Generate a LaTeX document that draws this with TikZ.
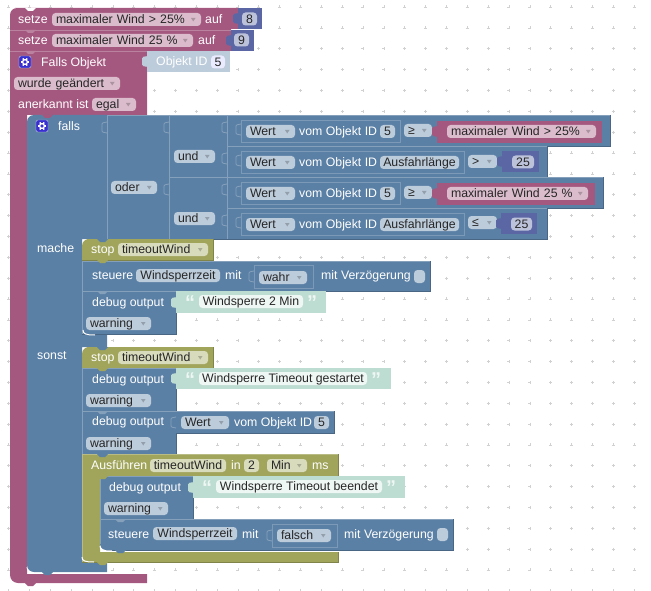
\documentclass[tikz,border=0pt]{standalone}
\usepackage{fontspec}
\setmainfont{Liberation Sans}
\usepackage{tikz}
\usetikzlibrary{calc}
\definecolor{blockmag}{HTML}{A5587F}
\definecolor{blockblue}{HTML}{5B80A5}
\definecolor{blockolive}{HTML}{A0A55B}
\definecolor{blocknum}{HTML}{5B67A5}
\definecolor{shadowblue}{HTML}{BDCCDB}
\definecolor{shadowgreen}{HTML}{BDDCD2}
\definecolor{pillmag}{HTML}{DBBCCC}
\definecolor{pillblue}{HTML}{BDCCDB}
\definecolor{pillolive}{HTML}{D9DBBD}
\definecolor{pillnum}{HTML}{BDC2DB}
\definecolor{pillgreen}{HTML}{EFF7F4}
\definecolor{gearblue}{HTML}{3A2FD0}
\tikzstyle{griddot} = [draw,black!18,line width=.5pt]
\tikzstyle{blocklabel} = [anchor=west,inner xsep=0pt,inner ysep=.75pt,text height=10pt,text depth=1.5pt,text=white,font=\fontsize{12.3}{14}\selectfont]
\tikzstyle{pill} = [rounded corners=3.5pt,inner ysep=.75pt,text height=10pt,text depth=1.5pt,text=black!85,font=\fontsize{12.3}{14}\selectfont]
\tikzstyle{tabline} = [draw,blockblue!75!white,line width=.8pt,rounded corners=1pt]
\tikzstyle{holder} = [draw,blockblue!80!white,line width=.8pt]
\tikzstyle{quotemark} = [anchor=center,inner sep=0pt,text=pillgreen,font=\fontsize{20}{20}\bfseries\selectfont]

\newcommand{\stackblock}[5]{
  \fill[#5] (#1,#2) rectangle (#3,#4);
  \draw[#5!80!black] (#3,#2) -- (#3,#4) -- (#1,#4);
  \draw[#5!75!white] (#1,#4) -- (#1,#2) -- (#3,#2);
}
\newcommand{\stackblockr}[5]{
  \fill[#5] [rounded corners=7pt] (#1,#4) -- (#1,#2) -- ({#1+12},#2) [sharp corners] -- (#3,#2) -- (#3,#4) -- cycle;
  \draw[#5!80!black] (#3,#2) -- (#3,#4) -- (#1,#4);
}
\newcommand{\plainblock}[5]{
  \fill[#5] (#1,#2) rectangle (#3,#4);
}
\newcommand{\bump}[3]{
  \fill[#3] ({#1+15},#2) -- ({#1+18},{#2+3}) -- ({#1+23},{#2+3}) -- ({#1+26},#2) -- cycle;
}
\newcommand{\valtab}[3]{
  \fill[#3,rounded corners=1.5pt] ({#1+1},#2) -- ({#1-5},{#2+1}) -- ({#1-5},{#2+10}) -- ({#1+1},{#2+11}) -- cycle;
}
\newcommand{\linetab}[2]{
  \draw[tabline] (#1,#2) -- ({#1-5},{#2+1}) -- ({#1-5},{#2+10}) -- (#1,{#2+11});
}
\newcommand{\innercorner}[2]{
  \draw[white,line width=1pt] (#1,#2) .. controls (#1,{#2+4}) and ({#1+3},{#2+5}) .. ({#1+12},{#2+5});
}
\newcommand{\gearicon}[3]{
  \fill[gearblue,rounded corners=2pt] (#2,#3) rectangle ({#2+12},{#3+12});
  \draw[blockblue!40!white,rounded corners=2pt] (#2,#3) rectangle ({#2+12},{#3+12});
  \foreach \ga in {0,60,...,300}
    \draw[white,line width=1.4pt] ($(#2,#3)+(6,6)+(\ga:2.4)$) -- ($(#2,#3)+(6,6)+(\ga:4.2)$);
  \draw[white,line width=1.3pt] ({#2+6},{#3+6}) circle (2.4pt);
}
% #1 name, #2 x, #3 y centre, #4 text
\newcommand{\lab}[4]{
  \node[blocklabel] (#1) at (#2,#3) {#4};
}
% #1 name, #2 x1, #3 x2, #4 y1, #5 colour, #6 text
\newcommand{\field}[6]{
  \pgfmathsetmacro\fldw{#3-#2}
  \node[pill,fill=#5,inner xsep=0pt,minimum width=\fldw pt] (#1) at ({(#2+#3)/2},{#4+6.5}) {#6};
}
\newcommand{\dropfield}[6]{
  \pgfmathsetmacro\fldw{#3-#2-8}
  \node[pill,fill=#5,inner xsep=4pt,text width=\fldw pt] (#1) at ({(#2+#3)/2},{#4+6.5}) {\mbox{#6}};
  \fill[#5!78!black] ({#3-10},{#4+5}) -- ({#3-5.5},{#4+5}) -- ({#3-7.75},{#4+8.5}) -- cycle;
}

\begin{document}
\begin{tikzpicture}[x=1pt,y=-1pt]
 \useasboundingbox (0,0) rectangle (651,591);

 \foreach \gx in {0,...,30}
   \foreach \gy in {0,...,28}
     \path[griddot] ({8.5+20.85*\gx},{7+20.85*\gy}) ++(-1.5,0) -- ++(3,0) ++(-1.5,-1.5) -- ++(0,3);

 % outer block
 \fill[blockmag] [rounded corners=7pt] (10,40) -- (10,8) -- (22,8) [sharp corners] -- (238,8) -- (238,29) -- (231,29) -- (231,51) -- (147,51) -- (147,115) -- (27,115) -- (27,574) -- (147,574) -- (147,583) [rounded corners=8pt] -- (10,583) -- (10,560) -- cycle;
 \draw[blockmag!75!white] (10,30) -- (231,30) (10,51) -- (147,51);
 \bump{10}{8}{white}
 \bump{10}{30}{blockmag!75!white}
 \bump{10}{51}{blockmag!75!white}
 \innercorner{27}{567}
 \bump{10}{583}{blockmag}

 \plainblock{238}{8}{262}{29}{blocknum}
 \valtab{238}{13}{blocknum}
 \lab{setzea}{18}{19}{setze}
 \dropfield{windhigh}{52}{201}{13}{pillmag}{maximaler Wind > 25\%}
 \lab{aufa}{205}{19}{auf}
 \field{numeight}{242}{257}{12.5}{pillnum}{8}

 \plainblock{231}{30}{254}{51}{blocknum}
 \valtab{231}{35}{blocknum}
 \lab{setzeb}{18}{40}{setze}
 \dropfield{windlow}{52}{193}{34}{pillmag}{maximaler Wind 25 \%}
 \lab{aufb}{198}{40}{auf}
 \field{numnine}{234}{249}{33.5}{pillnum}{9}

 \gearicon{gearobj}{19}{56}
 \lab{fallsobj}{41}{62}{Falls Objekt}
 \plainblock{147}{51}{230}{72}{shadowblue}
 \valtab{147}{56}{shadowblue}
 \lab{objid}{156}{61.5}{Objekt ID}
 \field{objfive}{211}{225}{55.5}{white!92!blue}{5}
 \dropfield{changed}{14}{120}{77}{pillmag}{wurde geändert}
 \lab{acked}{18}{104}{anerkannt ist}
 \dropfield{ackegal}{92}{136}{98}{pillmag}{egal}

 % falls block
 \fill[blockblue] [rounded corners=7pt] (27,130) -- (27,115) -- (40,115) [sharp corners] -- (107,115) -- (107,239) -- (82,239) -- (82,335) -- (107,335) -- (107,347) -- (82,347) -- (82,562) -- (107,562) -- (107,572) [rounded corners=7pt] -- (27,572) -- (27,555) -- cycle;
 \bump{27}{115}{blockmag}
 \gearicon{gearfalls}{36}{120}
 \lab{falls}{58}{126}{falls}
 \lab{mache}{37}{248}{mache}
 \lab{sonst}{37}{355}{sonst}
 \bump{27}{572}{blockblue}

 \stackblock{107}{115}{169}{239}{blockblue}
 \stackblock{169}{115}{227}{177}{blockblue}
 \stackblock{169}{177}{227}{239}{blockblue}
 \stackblock{227}{115}{610}{146}{blockblue}
 \stackblock{227}{146}{547}{177}{blockblue}
 \stackblock{227}{177}{603}{208}{blockblue}
 \stackblock{227}{208}{547}{239}{blockblue}
 \linetab{107}{122}
 \linetab{169}{122}
 \linetab{169}{184}
 \foreach \ty in {122,153,184,215} {
   \linetab{227}{\ty}
 }
 \foreach \ty in {124,155,186,217} {
   \linetab{241}{\ty}
 }
 \dropfield{oder}{111}{157}{181}{pillblue}{oder}
 \dropfield{unda}{174}{215}{150}{pillblue}{und}
 \dropfield{undb}{174}{215}{212}{pillblue}{und}

 % first row
 \path[holder] (241,120) rectangle (400,142);
 \dropfield{werta}{246}{295}{125}{pillblue}{Wert}
 \lab{voma}{299}{131.5}{vom Objekt ID}
 \field{fivea}{380}{395}{125}{pillblue}{5}
 \dropfield{cmpa}{404}{432}{124}{pillblue}{≥}
 \plainblock{437}{121}{602}{143}{blockmag}
 \valtab{437}{126}{blockmag}
 \dropfield{varwinda}{447}{596}{125}{pillmag}{maximaler Wind > 25\%}

 % second row
 \path[holder] (241,151) rectangle (464,173);
 \dropfield{wertb}{246}{295}{156}{pillblue}{Wert}
 \lab{vomb}{299}{162.5}{vom Objekt ID}
 \field{lena}{380}{459}{156}{pillblue}{Ausfahrlänge}
 \dropfield{cmpb}{468}{497}{155}{pillblue}{>}
 \plainblock{502}{151}{539}{172}{blocknum}
 \valtab{502}{156}{blocknum}
 \field{numa}{512}{534}{155.5}{pillnum}{25}

 % third row
 \path[holder] (241,182) rectangle (400,204);
 \dropfield{wertc}{246}{295}{187}{pillblue}{Wert}
 \lab{vomc}{299}{193.5}{vom Objekt ID}
 \field{fiveb}{380}{395}{187}{pillblue}{5}
 \dropfield{cmpc}{404}{432}{186}{pillblue}{≥}
 \plainblock{437}{183}{595}{205}{blockmag}
 \valtab{437}{188}{blockmag}
 \dropfield{varwindb}{447}{588}{187}{pillmag}{maximaler Wind 25 \%}

 % fourth row
 \path[holder] (241,213) rectangle (464,235);
 \dropfield{wertd}{246}{295}{218}{pillblue}{Wert}
 \lab{vomd}{299}{224.5}{vom Objekt ID}
 \field{lenb}{380}{459}{218}{pillblue}{Ausfahrlänge}
 \dropfield{cmpd}{468}{497}{216}{pillblue}{≤}
 \plainblock{501}{213}{537}{234}{blocknum}
 \valtab{501}{218}{blocknum}
 \field{numb}{511}{532}{217.5}{pillnum}{25}

 % mache
 \stackblockr{82}{239}{213}{260}{blockolive}
 \bump{82}{239}{blockblue}
 \lab{stopa}{91}{249}{stop}
 \dropfield{timeouta}{118}{208}{243}{pillolive}{timeoutWind}

 \stackblock{82}{261}{430}{291}{blockblue}
 \bump{82}{260}{blockolive}
 \lab{steuerea}{92}{275}{steuere}
 \field{sperra}{136}{220}{269}{pillblue}{Windsperrzeit}
 \lab{mita}{225}{275}{mit}
 \linetab{254}{271}
 \path[holder] (254,265) rectangle (313,288);
 \dropfield{wahr}{259}{307}{271}{pillblue}{wahr}
 \lab{verza}{321}{275}{mit Verzögerung}
 \field{checka}{414}{425}{270}{pillblue}{}

 \stackblock{82}{291}{176}{334}{blockblue}
 \plainblock{176}{291}{326}{313}{shadowgreen}
 \valtab{176}{297}{shadowgreen}
 \lab{debuga}{92}{302}{debug output}
 \node[quotemark] (qaa) at (190,303) {“};
 \field{stra}{199}{303}{295}{pillgreen}{Windsperre 2 Min}
 \node[quotemark] (qab) at (312,303) {”};
 \dropfield{warna}{86}{151}{317}{pillblue}{warning}
 \bump{82}{291}{blockblue!75!white}
 \innercorner{83}{330}

 % sonst
 \stackblockr{82}{347}{213}{368}{blockolive}
 \bump{82}{347}{blockblue}
 \lab{stopb}{91}{357}{stop}
 \dropfield{timeoutb}{118}{208}{351}{pillolive}{timeoutWind}

 \stackblock{82}{368}{176}{411}{blockblue}
 \bump{82}{368}{blockolive}
 \plainblock{176}{368}{391}{389}{shadowgreen}
 \valtab{176}{373}{shadowgreen}
 \lab{debugb}{92}{379}{debug output}
 \node[quotemark] (qba) at (190,380) {“};
 \field{strb}{199}{367}{372}{pillgreen}{Windsperre Timeout gestartet}
 \node[quotemark] (qbb) at (376,380) {”};
 \dropfield{warnb}{86}{151}{394}{pillblue}{warning}

 \stackblock{82}{411}{176}{454}{blockblue}
 \bump{82}{411}{blockblue!75!white}
 \plainblock{176}{411}{334}{433}{blockblue}
 \draw[blockblue!80!black] (334,411) -- (334,433) -- (176,433);
 \draw[blockblue!75!white] (176,411) -- (334,411);
 \linetab{176}{417}
 \lab{debugc}{92}{421}{debug output}
 \dropfield{werte}{181}{229}{416}{pillblue}{Wert}
 \lab{vome}{234}{422}{vom Objekt ID}
 \field{fivec}{314}{329}{416}{pillblue}{5}
 \dropfield{warnc}{86}{151}{437}{pillblue}{warning}

 % timeout block
 \fill[blockolive] (82,454) -- (338,454) -- (338,476) -- (100,476) -- (100,552) -- (338,552) -- (338,562) -- (82,562) -- cycle;
 \draw[blockolive!80!black] (338,454) -- (338,476) (338,552) -- (338,562) -- (82,562);
 \draw[blockolive!75!white] (82,562) -- (82,454) -- (338,454);
 \bump{82}{454}{blockblue}
 \bump{82}{562}{blockolive}
 \innercorner{82}{557}
 \lab{ausf}{91}{465}{Ausführen}
 \field{timeoutc}{150}{226}{459}{pillolive}{timeoutWind}
 \lab{ina}{231}{465}{in}
 \field{numc}{244}{259}{459}{pillolive}{2}
 \dropfield{minu}{267}{307}{459}{pillolive}{Min}
 \lab{msa}{312}{465}{ms}

 \stackblock{100}{476}{193}{519}{blockblue}
 \bump{82}{476}{blockolive}
 \plainblock{193}{476}{405}{498}{shadowgreen}
 \valtab{193}{482}{shadowgreen}
 \lab{debugd}{109}{487}{debug output}
 \node[quotemark] (qca) at (207,488) {“};
 \field{strc}{216}{382}{480}{pillgreen}{Windsperre Timeout beendet}
 \node[quotemark] (qcb) at (391,488) {”};
 \dropfield{warnd}{104}{168}{502}{pillblue}{warning}

 \fill[blockblue] (100,519) -- (453,519) -- (453,550) [rounded corners=6pt] -- (100,550) [sharp corners] -- cycle;
 \draw[blockblue!80!black] (453,519) -- (453,550) -- (106,550);
 \draw[blockblue!75!white] (100,544) -- (100,519) -- (453,519);
 \bump{100}{519}{blockblue!75!white}
 \bump{100}{550}{blockblue}
 \innercorner{100}{546}
 \lab{steuereb}{108}{534}{steuere}
 \field{sperrb}{153}{237}{527}{pillblue}{Windsperrzeit}
 \lab{mitb}{242}{534}{mit}
 \linetab{272}{530}
 \path[holder] (272,524) rectangle (337,547);
 \dropfield{falsch}{277}{331}{529}{pillblue}{falsch}
 \lab{verzb}{344}{534}{mit Verzögerung}
 \field{checkb}{437}{448}{528}{pillblue}{}

\end{tikzpicture}
\end{document}
